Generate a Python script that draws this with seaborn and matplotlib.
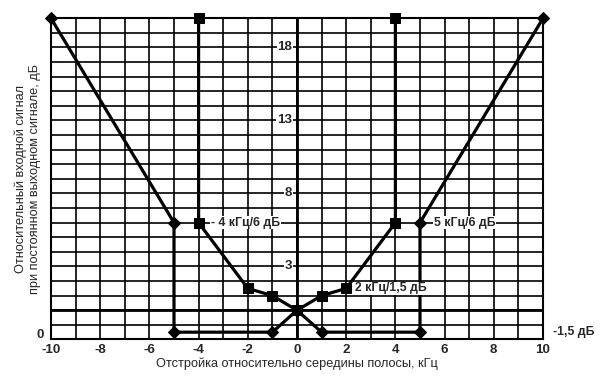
import matplotlib
matplotlib.use("Agg")
import matplotlib.pyplot as plt
import seaborn as sns

# dannye grafika
# vneshnyaya krivaya (romby)
x_romb = [-10, -5, -5, -1, 0, 1, 5, 5, 10]
y_romb = [20, 6, -1.5, -1.5, 0, -1.5, -1.5, 6, 20]
# vnutrennyaya krivaya (kvadraty)
x_kvad = [-4, -4, -2, -1, 0, 1, 2, 4, 4]
y_kvad = [20, 6, 1.5, 1, 0, 1, 1.5, 6, 20]

x_ticks = list(range(-10, 11, 2))
y_tick_vals = [18, 13, 8, 3]

podpisi = ["- 4 кГц/6 дБ", "5 кГц/6 дБ", "2 кГц/1,5 дБ"]
podpisi_x = [-3.5, 5.55, 2.35]
podpisi_y = [6, 6, 1.5]

sns.set_style("white")
plt.rcParams['font.family'] = ['Liberation Sans', 'DejaVu Sans']
FS = 9.2      # obican tekst
FSB = 9.6     # podebljani brojevi
FSN = 8.8     # natpisi na krivama

fig = plt.figure(figsize=(6.05, 3.81), dpi=100)
ax = fig.add_axes([0.0843, 0.109, 0.8132, 0.843])

# setka po 1 kGc i 1 dB
ax.set_xticks(range(-10, 11))
ax.set_yticks(range(-2, 21))
ax.grid(True, color='black', linewidth=1.2, zorder=1)
ax.axvline(0, color='black', linewidth=2.0, zorder=1)
ax.axhline(0, color='black', linewidth=2.0, zorder=1)

# estimator=None da ne usrednjava tacke sa istim x
sns.lineplot(x=x_romb, y=y_romb, sort=False, estimator=None, color='black', linewidth=2.3,
             marker='D', markersize=6.5, markeredgecolor='black', ax=ax, zorder=3,
             clip_on=False)
sns.lineplot(x=x_kvad, y=y_kvad, sort=False, estimator=None, color='black', linewidth=2.3,
             marker='s', markersize=6.5, markeredgecolor='black', ax=ax, zorder=3,
             clip_on=False)

ax.set_xlim(-10, 10)
ax.set_ylim(-2, 20)

# podpisi osi x samo na chetnyh
ax.set_xticklabels([str(t) if t in x_ticks else "" for t in range(-10, 11)],
                   fontsize=FSB, fontweight='bold')
ax.set_yticklabels([])
ax.tick_params(axis='both', length=0, pad=3)

for sp in ax.spines.values():
    sp.set_color('black')
    sp.set_linewidth(1.5)

# podpisi osi y vnutri grafika
for v in y_tick_vals:
    ax.text(-0.2, v, str(v), ha='right', va='center', fontsize=FSB, fontweight='bold',
            zorder=4, bbox=dict(facecolor='white', edgecolor='none', pad=0.5))

for t, xx, yy in zip(podpisi, podpisi_x, podpisi_y):
    ax.text(xx, yy, t, ha='left', va='center', fontsize=FSN, fontweight='bold', zorder=4,
            bbox=dict(facecolor='white', edgecolor='none', pad=0.5))

ax.text(10.4, -1.5, "-1,5 дБ", ha='left', va='center', fontsize=FSN, fontweight='bold',
        clip_on=False)
ax.text(-10.3, -1.7, "0", ha='right', va='center', fontsize=FSB, fontweight='bold',
        clip_on=False)

ax.set_xlabel("Отстройка относительно середины полосы, кГц", fontsize=FS, labelpad=1)
ax.set_ylabel("Относительный входной сигнал\nпри постоянном выходном сигнале, дБ",
              fontsize=FS, labelpad=4)

fig.savefig("out.png", dpi=100)
